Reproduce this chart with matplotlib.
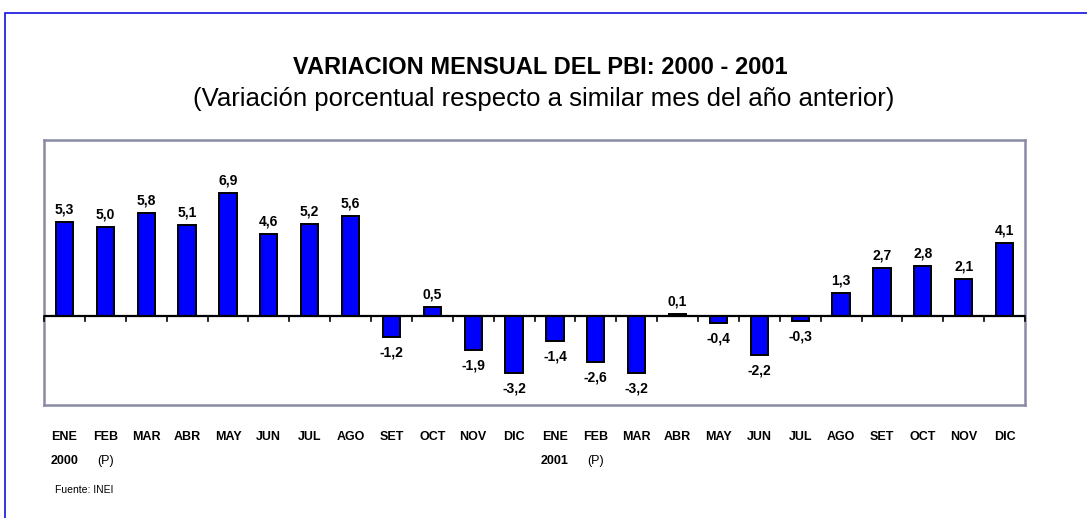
import matplotlib
matplotlib.use("Agg")
import matplotlib.pyplot as plt
from matplotlib.patches import Rectangle
import numpy as np

months = ["ENE", "FEB", "MAR", "ABR", "MAY", "JUN", "JUL", "AGO", "SET", "OCT", "NOV", "DIC",
          "ENE", "FEB", "MAR", "ABR", "MAY", "JUN", "JUL", "AGO", "SET", "OCT", "NOV", "DIC"]
values = [5.3, 5.0, 5.8, 5.1, 6.9, 4.6, 5.2, 5.6, -1.2, 0.5, -1.9, -3.2,
          -1.4, -2.6, -3.2, 0.1, -0.4, -2.2, -0.3, 1.3, 2.7, 2.8, 2.1, 4.1]
year_labels = {0: "2000", 12: "2001"}
prelim_labels = {1: "(P)", 13: "(P)"}

title = "VARIACION MENSUAL DEL PBI: 2000 - 2001"
subtitle = "(Variación porcentual respecto a similar mes del año anterior)"
source = "Fuente: INEI"

plt.rcParams['font.family'] = ['Liberation Sans', 'DejaVu Sans']

W, H = 1087, 518
fig = plt.figure(figsize=(W / 100, H / 100), dpi=100)

# outer blue frame
fig.add_artist(Rectangle((5 / W, -0.1), 1.2, 1 - 13 / H + 0.1, transform=fig.transFigure,
                         fill=False, edgecolor="#1010e0", linewidth=1.2))

ax = fig.add_axes([44 / W, 1 - 405 / H, (1025 - 44) / W, (405 - 140) / H])
x = np.arange(len(values))
ax.bar(x, values, width=0.42, color="#0000ff", edgecolor="black", linewidth=1.4, zorder=3)
ax.set_xlim(-0.5, len(values) - 0.5)
ax.set_ylim(-5.0, 9.9)
ax.axhline(0, color="black", linewidth=1.6, zorder=4)
for b in np.arange(-0.5, len(values) + 0.5, 1.0):
    ax.plot([b, b], [0, -0.28], color="black", linewidth=1.2, zorder=4, clip_on=False)
ax.set_xticks([])
ax.set_yticks([])
for s in ax.spines.values():
    s.set_edgecolor("#8a8aa6")
    s.set_linewidth(1.8)

for xi, v in zip(x, values):
    lab = f"{v:.1f}".replace(".", ",")
    if v >= 0:
        ax.annotate(lab, (xi, v), xytext=(0, 4), textcoords="offset points", ha="center",
                    va="bottom", fontsize=10, fontweight="bold")
    else:
        ax.annotate(lab, (xi, v), xytext=(0, -6), textcoords="offset points", ha="center",
                    va="top", fontsize=10, fontweight="bold")

# month labels below axes
for xi, m in zip(x, months):
    ax.annotate(m, (xi, 0), xycoords=("data", "axes fraction"), xytext=(0, -23),
                textcoords="offset points", ha="center", va="center", fontsize=9,
                fontweight="bold")
for i, y in year_labels.items():
    ax.annotate(y, (i, 0), xycoords=("data", "axes fraction"), xytext=(0, -40),
                textcoords="offset points", ha="center", va="center", fontsize=9,
                fontweight="bold")
for i, p in prelim_labels.items():
    ax.annotate(p, (i, 0), xycoords=("data", "axes fraction"), xytext=(0, -40),
                textcoords="offset points", ha="center", va="center", fontsize=9)

fig.text(540 / W, 1 - 67 / H, title, ha="center", va="center", fontsize=17, fontweight="bold")
fig.text(544 / W, 1 - 99 / H, subtitle, ha="center", va="center", fontsize=18.5)
fig.text(55 / W, 1 - 490 / H, source, ha="left", va="center", fontsize=7.5)

fig.savefig("out.png", dpi=100)
